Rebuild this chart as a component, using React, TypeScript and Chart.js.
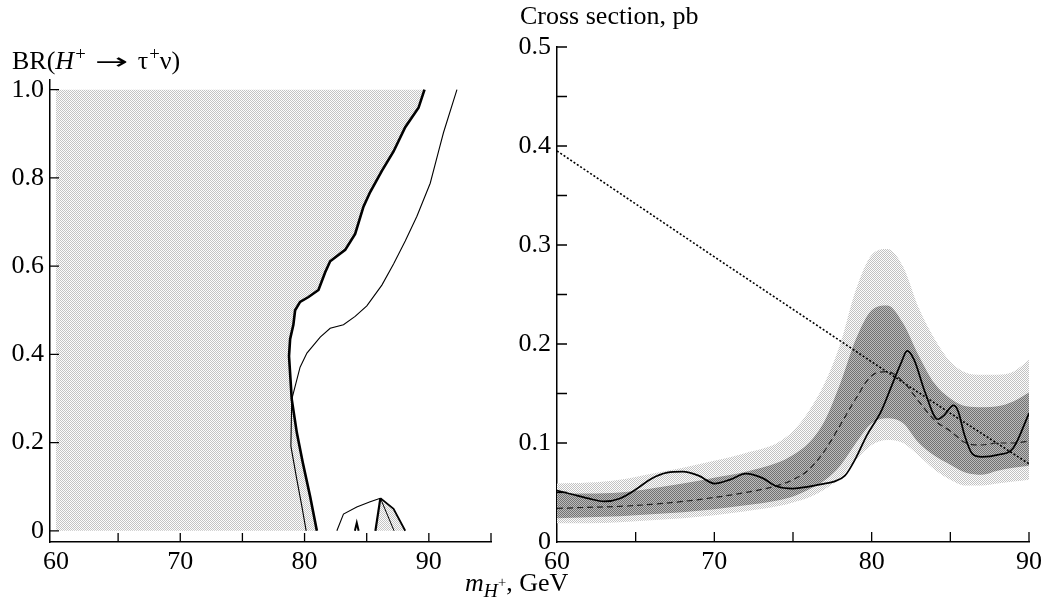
import React, { useEffect, useRef } from 'react';
import { Chart, registerables } from 'chart.js';
Chart.register(...registerables);

const FONT = "'Liberation Serif', 'Times New Roman', serif";

// ---------- Left panel: BR(H+ -> tau nu) vs m_H+ ----------
const leftXTicks = [60, 65, 70, 75, 80, 85, 90, 95];
const leftXLabels = ['60', '', '70', '', '80', '', '90', ''];
const leftYTicks = [0, 0.2, 0.4, 0.6, 0.8, 1.0];
const leftYLabels = ['0', '0.2', '0.4', '0.6', '0.8', '1.0'];

// thick exclusion contour (observed)
const thickX = [89.65, 89.17, 88.1, 87.16, 86.22, 85.28, 84.74, 84.07, 83.27, 82.06, 81.66, 81.12, 80.32, 79.64, 79.24, 79.1, 78.84, 78.75, 78.97, 79.38, 79.86, 80.45, 80.99];
const thickY = [1.0, 0.959, 0.915, 0.86, 0.816, 0.768, 0.735, 0.673, 0.637, 0.611, 0.586, 0.546, 0.53, 0.519, 0.5, 0.467, 0.435, 0.396, 0.298, 0.222, 0.154, 0.078, 0];
// thin contour (expected)
const thinX = [92.26, 91.18, 90.78, 90.11, 89.04, 88.1, 87.16, 86.22, 85.01, 84.07, 83.13, 82.06, 81.26, 80.19, 79.64, 78.97, 78.9, 79.38, 79.78, 80.13];
const thinY = [1.0, 0.903, 0.86, 0.788, 0.713, 0.657, 0.605, 0.557, 0.51, 0.486, 0.467, 0.459, 0.439, 0.403, 0.371, 0.298, 0.192, 0.116, 0.056, 0];
// small island near 83-88 GeV
const arcX = [82.6, 83.13, 84.2, 85.28, 86.1];
const arcY = [0, 0.038, 0.054, 0.066, 0.074];
const dropThickX = [86.1, 85.7];
const dropThickY = [0.074, 0];
const dropThinX = [86.1, 87.2];
const dropThinY = [0.074, 0];
const edgeX = [86.1, 87.16, 88.1];
const edgeY = [0.074, 0.05, 0];
const islandX = [85.7, 86.1, 87.16, 88.1];
const islandY = [0, 0.074, 0.05, 0];
const caretX = [84.05, 84.2, 84.35];
const caretY = [0, 0.018, 0];

// ---------- Right panel: cross section vs m_H+ ----------
const rightXTicks = [60, 65, 70, 75, 80, 85, 90];
const rightXLabels = ['60', '', '70', '', '80', '', '90'];
const rightYTicks = [0, 0.05, 0.1, 0.15, 0.2, 0.25, 0.3, 0.35, 0.4, 0.45, 0.5];
const rightYLabels = ['0', '', '0.1', '', '0.2', '', '0.3', '', '0.4', '', '0.5'];

const bandX = [60, 62, 64, 66, 68, 70, 72, 74, 75, 76, 77, 78, 79, 80, 81, 82, 83, 84, 85, 86, 87, 88, 89, 90];
const darkUpper = [0.049, 0.049, 0.05, 0.054, 0.059, 0.065, 0.071, 0.08, 0.088, 0.1, 0.122, 0.16, 0.205, 0.234, 0.239, 0.221, 0.188, 0.16, 0.145, 0.137, 0.136, 0.137, 0.142, 0.151];
const darkLower = [0.024, 0.025, 0.026, 0.028, 0.03, 0.033, 0.037, 0.042, 0.046, 0.053, 0.062, 0.077, 0.1, 0.12, 0.125, 0.12, 0.1, 0.087, 0.078, 0.07, 0.068, 0.072, 0.075, 0.077];
const lightUpper = [0.059, 0.06, 0.063, 0.069, 0.075, 0.082, 0.09, 0.1, 0.112, 0.132, 0.16, 0.2, 0.255, 0.29, 0.296, 0.278, 0.236, 0.205, 0.182, 0.171, 0.169, 0.169, 0.172, 0.184];
const lightLower = [0.019, 0.019, 0.02, 0.022, 0.024, 0.027, 0.031, 0.036, 0.04, 0.045, 0.053, 0.065, 0.083, 0.098, 0.103, 0.1, 0.087, 0.073, 0.063, 0.057, 0.057, 0.059, 0.061, 0.063];
const expected = [0.034, 0.035, 0.036, 0.038, 0.041, 0.045, 0.05, 0.057, 0.063, 0.073, 0.092, 0.118, 0.145, 0.168, 0.172, 0.162, 0.142, 0.123, 0.112, 0.1, 0.098, 0.1, 0.1, 0.102];

const obsX = [60, 61, 62, 63, 64, 65, 66, 67, 68, 69, 70, 71, 72, 73, 74, 75, 76, 77, 77.6, 78.3, 79, 79.7, 80.6, 81.3, 81.9, 82.25, 82.7, 83.4, 84.2, 84.6, 85.2, 85.5, 85.9, 86.4, 87, 88, 89, 90];
const obsY = [0.052, 0.048, 0.044, 0.041, 0.044, 0.053, 0.064, 0.07, 0.071, 0.067, 0.059, 0.063, 0.069, 0.065, 0.056, 0.054, 0.056, 0.059, 0.061, 0.067, 0.085, 0.108, 0.132, 0.159, 0.182, 0.193, 0.184, 0.151, 0.124, 0.128, 0.138, 0.132, 0.108, 0.089, 0.086, 0.088, 0.095, 0.13];

const theoryX = [60, 70, 80, 85, 90];
const theoryY = [0.395, 0.288, 0.182, 0.13, 0.079];

const zip = (xs: number[], ys: number[]) => xs.map((x, i) => ({ x, y: ys[i] }));

function makePattern(dot: string, bg: string): CanvasPattern | string {
  const c = document.createElement('canvas');
  c.width = 2;
  c.height = 2;
  const g = c.getContext('2d');
  if (!g) return bg;
  g.fillStyle = bg;
  g.fillRect(0, 0, 2, 2);
  g.fillStyle = dot;
  g.fillRect(0, 0, 1, 1);
  g.fillRect(1, 1, 1, 1);
  return g.createPattern(c, 'repeat') || bg;
}

function insideTicks(xt: number[], yt: number[], len: number) {
  return {
    id: 'insideTicks',
    afterDraw(chart: any) {
      const { ctx, chartArea, scales } = chart;
      const x = scales.x;
      const y = scales.y;
      ctx.save();
      ctx.strokeStyle = '#000';
      ctx.lineWidth = 1.3;
      ctx.beginPath();
      xt.forEach((v) => {
        const px = x.getPixelForValue(v);
        ctx.moveTo(px, chartArea.bottom);
        ctx.lineTo(px, chartArea.bottom - len);
      });
      yt.forEach((v) => {
        const py = y.getPixelForValue(v);
        ctx.moveTo(chartArea.left, py);
        ctx.lineTo(chartArea.left + len, py);
      });
      ctx.stroke();
      ctx.restore();
    },
  };
}

const tickFont = { family: FONT, size: 26 };

function lineDs(xs: number[], ys: number[], width: number, extra: any = {}) {
  return {
    data: zip(xs, ys),
    borderColor: '#000',
    borderWidth: width,
    pointRadius: 0,
    fill: false,
    tension: 0,
    ...extra,
  };
}

const gridOpts = { display: false, drawTicks: false, tickLength: 0 };
const borderOpts = { display: true, color: '#000', width: 1.5 };

export default function App() {
  const leftRef = useRef<HTMLCanvasElement>(null);
  const rightRef = useRef<HTMLCanvasElement>(null);

  useEffect(() => {
    if (!leftRef.current || !rightRef.current) return;
    const lightPat = makePattern('#c2c2c2', '#fdfdfd');
    const darkPat = makePattern('#727272', '#bcbcbc');
    const leftPat = makePattern('#c4c4c4', '#fdfdfd');
    const transparent = 'rgba(0,0,0,0)';

    const left = new Chart(leftRef.current, {
      type: 'line',
      data: {
        datasets: [
          lineDs(thickX, thickY, 2.6),
          lineDs(thinX, thinY, 1.1),
          lineDs(arcX, arcY, 1.1),
          lineDs(dropThickX, dropThickY, 2.2),
          lineDs(dropThinX, dropThinY, 1.0),
          lineDs(edgeX, edgeY, 1.8),
          lineDs(caretX, caretY, 2.0),
          lineDs(islandX, islandY, 0, { borderColor: transparent, backgroundColor: leftPat, fill: 'shape' }),
          lineDs([60, 60, ...thickX], [0, 1, ...thickY], 0, { borderColor: transparent, backgroundColor: leftPat, fill: 'shape' }),
        ] as any,
      },
      options: {
        responsive: false,
        animation: false,
        events: [],
        layout: { padding: { top: 80, right: 19, left: 0, bottom: 0 } },
        plugins: { legend: { display: false }, tooltip: { enabled: false } },
        scales: {
          x: {
            type: 'linear',
            min: 59.52,
            max: 95,
            grid: gridOpts,
            border: borderOpts,
            afterBuildTicks: (s: any) => { s.ticks = leftXTicks.map((v) => ({ value: v })); },
            afterFit: (s: any) => { s.height = 66; },
            ticks: {
              font: tickFont,
              color: '#000',
              padding: 5,
              maxRotation: 0,
              autoSkip: false,
              callback: (_v: any, i: number) => leftXLabels[i],
            },
          },
          y: {
            type: 'linear',
            min: -0.0254,
            max: 1.022,
            grid: gridOpts,
            border: borderOpts,
            afterBuildTicks: (s: any) => { s.ticks = leftYTicks.map((v) => ({ value: v })); },
            afterFit: (s: any) => { s.width = 50; },
            ticks: {
              font: tickFont,
              color: '#000',
              padding: 6,
              autoSkip: false,
              callback: (_v: any, i: number) => leftYLabels[i],
            },
          },
        },
      } as any,
      plugins: [insideTicks(leftXTicks.slice(1), leftYTicks, 9) as any],
    });

    const monotone = { cubicInterpolationMode: 'monotone' };
    const right = new Chart(rightRef.current, {
      type: 'line',
      data: {
        datasets: [
          lineDs(obsX, obsY, 1.7, monotone),
          lineDs(bandX, expected, 1.2, { ...monotone, borderDash: [6, 4], borderColor: '#222' }),
          lineDs(theoryX, theoryY, 1.6, { borderDash: [2, 2] }),
          lineDs(bandX, darkUpper, 0, { ...monotone, borderColor: transparent, backgroundColor: darkPat, fill: '+1' }),
          lineDs(bandX, darkLower, 0, { ...monotone, borderColor: transparent }),
          lineDs(bandX, lightUpper, 0, { ...monotone, borderColor: transparent, backgroundColor: lightPat, fill: '+1' }),
          lineDs(bandX, lightLower, 0, { ...monotone, borderColor: transparent }),
        ] as any,
      },
      options: {
        responsive: false,
        animation: false,
        events: [],
        layout: { padding: { top: 47, right: 15, left: 0, bottom: 0 } },
        plugins: { legend: { display: false }, tooltip: { enabled: false } },
        scales: {
          x: {
            type: 'linear',
            min: 60,
            max: 90,
            grid: gridOpts,
            border: borderOpts,
            afterBuildTicks: (s: any) => { s.ticks = rightXTicks.map((v) => ({ value: v })); },
            afterFit: (s: any) => { s.height = 66; },
            ticks: {
              font: tickFont,
              color: '#000',
              padding: 5,
              maxRotation: 0,
              autoSkip: false,
              callback: (_v: any, i: number) => rightXLabels[i],
            },
          },
          y: {
            type: 'linear',
            min: 0,
            max: 0.5,
            grid: gridOpts,
            border: borderOpts,
            afterBuildTicks: (s: any) => { s.ticks = rightYTicks.map((v) => ({ value: v })); },
            afterFit: (s: any) => { s.width = 47; },
            ticks: {
              font: tickFont,
              color: '#000',
              padding: 6,
              autoSkip: false,
              callback: (_v: any, i: number) => rightYLabels[i],
            },
          },
        },
      } as any,
      plugins: [insideTicks(rightXTicks.slice(1), rightYTicks.slice(1), 10) as any],
    });

    return () => {
      left.destroy();
      right.destroy();
    };
  }, []);

  const sup: React.CSSProperties = { fontSize: '0.72em', position: 'relative', top: '-0.5em', marginLeft: 1 };
  const text: React.CSSProperties = {
    position: 'absolute',
    fontFamily: FONT,
    fontSize: 26,
    lineHeight: '26px',
    color: '#000',
    whiteSpace: 'nowrap',
  };
  const arrow: React.CSSProperties = {
    fontFamily: "'DejaVu Sans', sans-serif",
    display: 'inline-block',
    width: 40,
    textAlign: 'center',
    transform: 'scaleX(1.8)',
    margin: '0 6px 0 6px',
    fontSize: '0.85em',
  };

  return (
    <div style={{ position: 'absolute', left: 0, top: 0, width: 1047, height: 608, background: '#fff', overflow: 'hidden' }}>
      <canvas ref={leftRef} width={510} height={608} style={{ position: 'absolute', left: 0, top: 0 }} />
      <canvas ref={rightRef} width={537} height={608} style={{ position: 'absolute', left: 510, top: 0 }} />
      <div style={{ ...text, left: 12, top: 48 }}>
        BR(<i>H</i><span style={sup}>+</span><span style={arrow}>→</span>τ<span style={sup}>+</span>ν)
      </div>
      <div style={{ ...text, left: 520, top: 3 }}>Cross section, pb</div>
      <div style={{ ...text, left: 465, top: 570 }}>
        <i>m</i>
        <span style={{ fontSize: '0.75em', position: 'relative', top: '0.3em' }}>
          <i>H</i>
          <span style={{ fontSize: '0.75em', position: 'relative', top: '-0.7em' }}>+</span>
        </span>
        , GeV
      </div>
    </div>
  );
}
